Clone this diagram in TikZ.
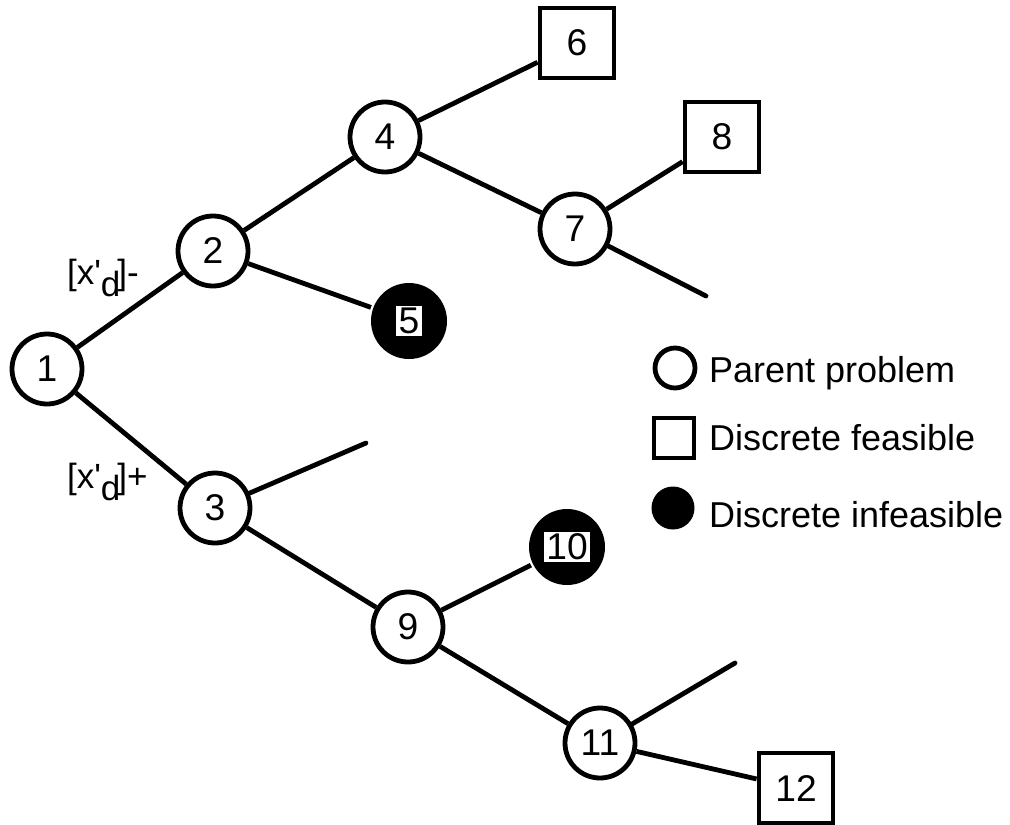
\documentclass[tikz,border=0pt]{standalone}
\usepackage{fontspec}
\setmainfont{Liberation Sans}
\newfontfamily\plainsans{Liberation Sans}
\usetikzlibrary{positioning}

\newcommand{\whitetag}[1]{{\setlength{\fboxsep}{1.1pt}\colorbox{white}{#1}}}

\begin{document}
\begin{tikzpicture}[
        x=0.5pt, y=-0.5pt,
        font=\fontsize{18.6}{22}\selectfont,
        every path/.style={line width=2.4pt},
        prob/.style={draw, circle, minimum size=35pt, inner sep=0pt},
        feas/.style={draw, rectangle, minimum width=37pt, minimum height=35pt, inner sep=0pt},
        infeas/.style={circle, fill=black, minimum size=38pt, inner sep=0pt},
        branch/.style={anchor=west, font=\plainsans\fontsize{17.5}{20}\selectfont},
        key/.style={anchor=base west, font=\fontsize{18}{22}\selectfont}
    ]
        \useasboundingbox (0,0) rectangle (1010,824);

        \node[prob] (n1)  at (47,369)  {1};
        \node[prob] (n2)  at (213,251) {2};
        \node[prob] (n3)  at (215,508) {3};
        \node[prob] (n4)  at (385,137) {4};
        \node[infeas] (n5) at (409,321) {\whitetag{5}};
        \node[feas] (n6)  at (577,43)  {6};
        \node[prob] (n7)  at (575,229) {7};
        \node[feas] (n8)  at (722,137) {8};
        \node[prob] (n9)  at (408,627) {9};
        \node[infeas] (n10) at (567,547) {\whitetag{10}};
        \node[prob] (n11) at (600,743) {11};
        \node[feas] (n12) at (796,788) {12};

        \coordinate (d3)  at (366,443);
        \coordinate (d7)  at (706,296);
        \coordinate (d11) at (735,663);

        \draw (n1) -- (n2);
        \draw (n1) -- (n3);
        \draw (n2) -- (n4);
        \draw (n2) -- (n5);
        \draw (n4) -- (n6);
        \draw (n4) -- (n7);
        \draw (n7) -- (n8);
        \draw[line cap=round] (n7) -- (d7);
        \draw[line cap=round] (n3) -- (d3);
        \draw (n3) -- (n9);
        \draw (n9) -- (n10);
        \draw (n9) -- (n11);
        \draw[line cap=round] (n11) -- (d11);
        \draw (n11) -- (n12);

        \node[branch] (lminus) at (58,278) {[x'\raisebox{-0.35em}{d}\kern-1.5pt]-};
        \node[branch] (lplus)  at (58,482) {[x'\raisebox{-0.35em}{d}\kern-1.5pt]+};

        \node[draw, circle, minimum size=20pt, inner sep=0pt] (kp) at (675,368) {};
        \node[draw, rectangle, minimum size=20pt, inner sep=0pt] (kf) at (674,438) {};
        \node[circle, fill=black, minimum size=21.5pt, inner sep=0pt] (ki) at (673,508) {};
        \node[key] (tp) at (700,382) {Parent problem};
        \node[key] (tf) at (700,450) {Discrete feasible};
        \node[key] (ti) at (700,527) {Discrete infeasible};
    \end{tikzpicture}
\end{document}
